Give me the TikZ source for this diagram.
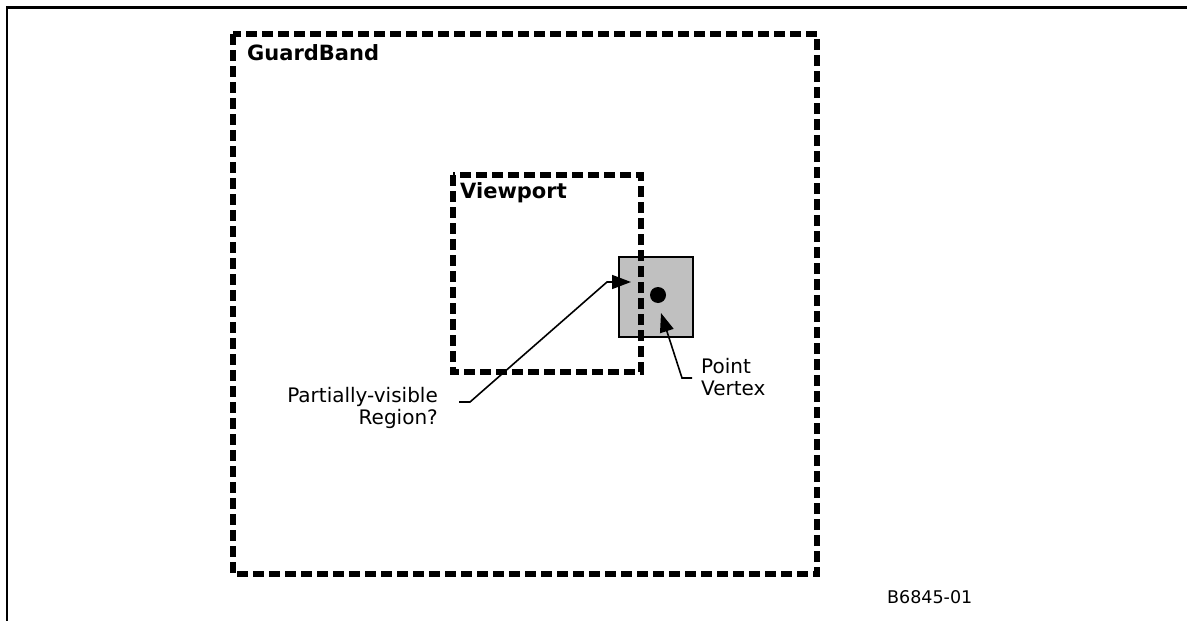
\documentclass[tikz,border=0pt]{standalone}
\usepackage{fontspec}
\setmainfont{DejaVu Sans}
\usetikzlibrary{arrows.meta}
\definecolor{regiongray}{RGB}{192,192,192}
\begin{document}
\begin{tikzpicture}[x=1pt,y=-1pt,
  band/.style={line width=5.5pt, dash pattern=on 11pt off 5pt},
  leader/.style={line width=1.6pt, -{Triangle[length=19pt,width=14pt]}},
  title/.style={font=\fontsize{21}{24}\selectfont\bfseries, inner sep=0pt, anchor=base west},
  note/.style={font=\fontsize{20}{22}\selectfont, inner sep=0pt},
]
\useasboundingbox (0,0) rectangle (1187,621);

% page frame: top and left edges only
\draw[line width=2.2pt] (7,621) -- (7,7.5) -- (1187,7.5);

% guard band
\draw[band] (233,34) rectangle (817,574);
\node[title] (gblabel) at (247,60) {GuardBand};

% partially covered region (drawn under the viewport edge)
\draw[line width=1.3pt, fill=regiongray] (619,257) rectangle (693,337);
\coordinate (region) at (656,297);

% viewport
\draw[band] (453,175) rectangle (641,372);
\node[title] (vplabel) at (460,198) {Viewport};

% point vertex
\node[circle, fill=black, minimum size=16pt, inner sep=0pt] (vertex) at (658,295) {};

% labels (base anchor sits on the last line)
\node[note, align=right, anchor=base east] (pvlabel) at (438,424) {Partially-visible\\Region?};
\node[note, align=left, anchor=base west] (ptlabel) at (701,395) {Point\\Vertex};
\node[font=\fontsize{17.5}{20}\selectfont, inner sep=0pt, anchor=base west] (figid) at (887,603) {B6845-01};

% leaders
\coordinate (pvhook) at (459,402);
\coordinate (pvbend) at (607,282);
\coordinate (pvtip) at (631,282);
\draw[leader] (pvhook) -- ++(11,0) -- (pvbend) -- (pvtip);

\coordinate (pthook) at (692,378);
\coordinate (pttip) at (661,313);
\draw[leader] (pthook) -- ++(-10,0) -- (pttip);
\end{tikzpicture}
\end{document}
